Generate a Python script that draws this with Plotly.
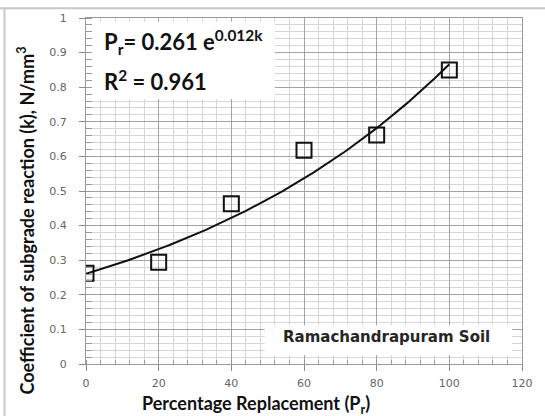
import numpy as np
import plotly.graph_objects as go

# Measured subgrade reaction for each replacement level
replacement = [0, 20, 40, 60, 80, 100]
k_values = [0.262, 0.294, 0.463, 0.618, 0.662, 0.850]

# Exponential trendline: Pr = 0.261 e^(0.012k)
fit_a = 0.261
fit_b = 0.012
fit_x = np.linspace(0, 100, 101)
fit_y = fit_a * np.exp(fit_b * fit_x)

x_ticks = [0, 20, 40, 60, 80, 100, 120]
y_ticks = [0, 0.1, 0.2, 0.3, 0.4, 0.5, 0.6, 0.7, 0.8, 0.9, 1]

fig = go.Figure()

fig.add_trace(go.Scatter(
    x=fit_x, y=fit_y, mode="lines",
    line=dict(color="#111111", width=2),
    hoverinfo="skip", showlegend=False,
))
fig.add_trace(go.Scatter(
    x=replacement, y=k_values, mode="markers",
    marker=dict(symbol="square-open", size=15, color="#111111",
                line=dict(color="#111111", width=2)),
    showlegend=False,
))

tick_font = dict(family="DejaVu Sans", size=11, color="#666666")

fig.update_xaxes(
    range=[0, 120], tickvals=x_ticks, ticktext=[str(v) for v in x_ticks],
    showgrid=True, gridcolor="#a3a3a3", gridwidth=1,
    showline=True, linecolor="#9a9a9a", linewidth=1, mirror=True,
    ticks="outside", ticklen=6, tickcolor="#8a8a8a",
    ticklabelstandoff=3,
    tickfont=tick_font, zeroline=False,
    minor=dict(dtick=4, showgrid=True, gridcolor="#d6d6d6", gridwidth=1,
               ticks="inside", ticklen=4, tickcolor="#9a9a9a"),
)
fig.update_yaxes(
    range=[0, 1], tickvals=y_ticks,
    showgrid=True, gridcolor="#a3a3a3", gridwidth=1,
    showline=True, linecolor="#9a9a9a", linewidth=1, mirror=True,
    ticks="outside", ticklen=6, tickcolor="#8a8a8a",
    ticklabelstandoff=10,
    tickfont=tick_font, zeroline=False,
    minor=dict(dtick=0.02, showgrid=True, gridcolor="#d6d6d6", gridwidth=1,
               ticks="inside", ticklen=6, tickcolor="#9a9a9a"),
)

# White panels behind the equation and the soil label (over grid, under data)
fig.add_shape(type="rect", xref="x", yref="y", x0=0, x1=52, y0=0.766, y1=0.99,
              fillcolor="white", line=dict(width=0), layer="between")
fig.add_shape(type="rect", xref="x", yref="y", x0=49.2, x1=117.3, y0=0.026, y1=0.111,
              fillcolor="white", line=dict(width=0), layer="between")

# Outer frame lines along top and left edges
fig.add_shape(type="line", xref="paper", yref="paper",
              x0=-0.2, x1=1.1, y0=1.028, y1=1.028,
              line=dict(color="#c8c8c8", width=2), layer="above")
fig.add_shape(type="line", xref="paper", yref="paper",
              x0=-0.187, x1=-0.187, y0=-0.2, y1=1.028,
              line=dict(color="#c8c8c8", width=2), layer="above")

eq_font = dict(family="Lato", size=22, color="#111111", weight="bold")
fig.add_annotation(text="P<sub>r</sub>= 0.261 e<sup>0.012k</sup>",
                   xref="paper", yref="paper", x=0.036, y=0.93,
                   xanchor="left", yanchor="middle", showarrow=False, font=eq_font)
fig.add_annotation(text="R<sup>2</sup> = 0.961",
                   xref="paper", yref="paper", x=0.036, y=0.82,
                   xanchor="left", yanchor="middle", showarrow=False, font=eq_font)

fig.add_annotation(text="Ramachandrapuram Soil",
                   xref="paper", yref="paper", x=0.689, y=0.077,
                   xanchor="center", yanchor="middle", showarrow=False,
                   font=dict(family="DejaVu Sans", size=15, color="#262626", weight="bold"))

fig.add_annotation(text="Coefficient of subgrade reaction (k), N/mm<sup>3</sup>",
                   xref="paper", yref="paper", x=-0.137, y=0.4156, textangle=-90,
                   xanchor="center", yanchor="middle", showarrow=False,
                   font=dict(family="Lato", size=18, color="#111111", weight="bold"))
fig.add_annotation(text="Percentage Replacement (P<sub>r</sub>)",
                   xref="paper", yref="paper", x=0.3896, y=-0.116,
                   xanchor="center", yanchor="middle", showarrow=False,
                   font=dict(family="Lato", size=18, color="#111111", weight="bold"))

fig.update_layout(
    width=545, height=416,
    margin=dict(l=86, r=15, t=13, b=52),
    paper_bgcolor="white", plot_bgcolor="white",
    showlegend=False,
)

fig.write_html("out.html")
